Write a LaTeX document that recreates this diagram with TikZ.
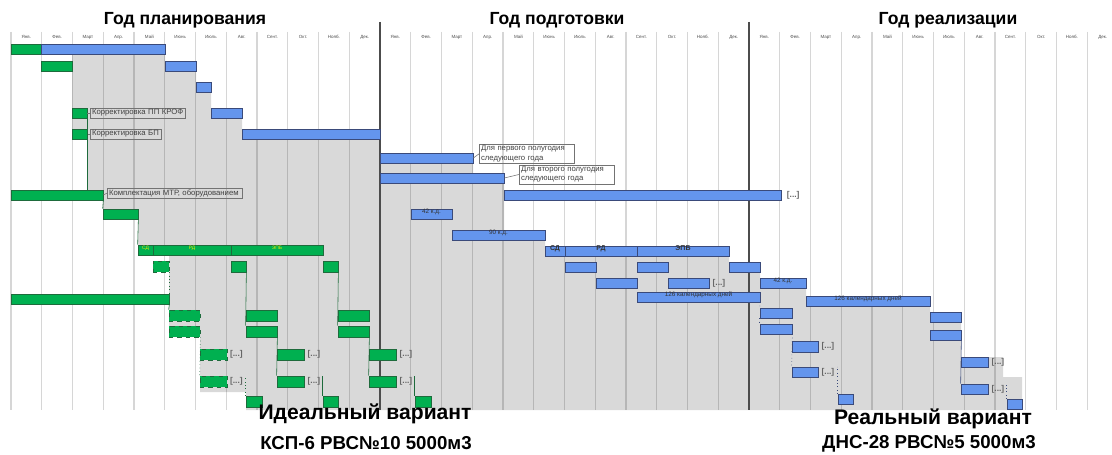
\documentclass[tikz,border=0pt]{standalone}
\usepackage{fontspec}
\setmainfont{Liberation Sans}
\usetikzlibrary{fit,positioning}
\definecolor{verdeb}{HTML}{00B050}
\definecolor{verdel}{HTML}{1E6B3C}
\definecolor{azulb}{HTML}{6495ED}
\definecolor{azull}{HTML}{3A4A7A}
\definecolor{cinza}{HTML}{D9D9D9}

\begin{document}
\begin{tikzpicture}[
    x=0.25mm, y=-0.25mm,
    % Green bars (ideal variant)
    verde/.style={
        draw=verdel, line width=0.5pt, fill=verdeb, inner sep=0pt,
        font=\fontsize{3.5}{4}\selectfont, text=yellow!90!green
    },
    verdetr/.style={verde, dashed},
    % Blue bars (real variant)
    azul/.style={
        draw=azull, line width=0.5pt, fill=azulb, inner sep=0pt,
        font=\fontsize{4.5}{5}\selectfont, text=black!80
    },
    azulbf/.style={azul, font=\fontsize{5}{6}\selectfont\bfseries},
    % Callout boxes
    nota/.style={
        draw=black!55, line width=0.4pt, inner sep=1pt,
        font=\fontsize{5.5}{6.5}\selectfont, text=black!75, align=left
    },
    ret/.style={font=\fontsize{6}{6}\selectfont\bfseries, text=black!60, inner sep=0pt},
    mes/.style={font=\fontsize{3.2}{4}\selectfont, text=black!70, inner sep=0pt},
    ano/.style={font=\fontsize{12.5}{14}\selectfont\bfseries},
    var/.style={font=\fontsize{15}{17}\selectfont\bfseries, inner sep=0pt},
    obj/.style={font=\fontsize{13.3}{15}\selectfont\bfseries, inner sep=0pt},
    lmes/.style={draw=black, draw opacity=0.16, line width=0.33mm},
    lano/.style={draw=black!70, line width=0.38mm},
    lverde/.style={draw=verdel, line width=0.4pt},
    lazul/.style={draw=azull, line width=0.4pt},
    lnota/.style={draw=black!55, line width=0.4pt}
]
\useasboundingbox (0,0) rectangle (1112,455);

% ---- GREY AREA ----
\fill[cinza] (72,54) -| (165,71) -| (196,92) -| (211,118) -| (242,139)
    -| (380,163) -| (473,183) -| (504,240) -| (545,256) -| (729,272)
    -| (760,288) -| (806,306) -| (930,322) -| (961,357) -| (1003,377)
    -| (1022,410) -| (246,392) -| (200,337) -| (169,255) -| (138,219)
    -| (103,190) -| (87,139) -| (72,54) -- cycle;

% ---- MONTH GRID ----
\foreach \k in {0,...,35}
    \draw[lmes] ({11+30.75*\k},32) -- ({11+30.75*\k},410);
\draw[lano] (380,22) -- (380,410);
\draw[lano] (749,22) -- (749,410);

\foreach \a in {0,1,2}
    \foreach \m [count=\i from 0] in {Янв.,Фев.,Март,Апр.,Май,Июнь,Июль,Авг.,Сент.,Окт.,Нояб.,Дек.}
        \node[mes] (m\a-\i) at ({26.4+30.75*(12*\a+\i)},37) {\m};

% ---- YEARS ----
\node[ano] (ano1) at (185,20) {Год планирования};
\node[ano] (ano2) at (557,20) {Год подготовки};
\node[ano] (ano3) at (948,20) {Год реализации};

% ---- GREEN BARS: IDEAL VARIANT ----
\node[verde, fit={(11,44) (41,54)}]    (g1) {};
\node[verde, fit={(41,61) (72,71)}]    (g2) {};
\node[verde, fit={(72,108) (87,118)}]  (g3) {};
\node[verde, fit={(72,129) (87,139)}]  (g4) {};
\node[verde, fit={(11,190) (103,200)}] (g5) {};
\node[verde, fit={(103,209) (138,219)}] (g6) {};
\node[verde, fit={(138,245) (153,255)}] (g7a) {СД};
\node[verde, fit={(153,245) (231,255)}] (g7b) {РД};
\node[verde, fit={(231,245) (323,255)}] (g7c) {ЭПБ};
\node[verdetr, fit={(153,261) (169,272)}] (g8a) {};
\node[verde, fit={(231,261) (246,272)}]   (g8b) {};
\node[verde, fit={(323,261) (338,272)}]   (g8c) {};
\node[verde, fit={(11,294) (169,304)}]    (g9) {};
\node[verdetr, fit={(169,310) (200,321)}] (g10a) {};
\node[verde, fit={(246,310) (277,321)}]   (g10b) {};
\node[verde, fit={(338,310) (369,321)}]   (g10c) {};
\node[verdetr, fit={(169,326) (200,337)}] (g11a) {};
\node[verde, fit={(246,326) (277,337)}]   (g11b) {};
\node[verde, fit={(338,326) (369,337)}]   (g11c) {};
\node[verdetr, fit={(200,349) (227,360)}] (g12a) {};
\node[verde, fit={(277,349) (304,360)}]   (g12b) {};
\node[verde, fit={(369,349) (396,360)}]   (g12c) {};
\node[verdetr, fit={(200,376) (227,387)}] (g13a) {};
\node[verde, fit={(277,376) (304,387)}]   (g13b) {};
\node[verde, fit={(369,376) (396,387)}]   (g13c) {};
\node[verde, fit={(246,396) (262,407)}]   (g14a) {};
\node[verde, fit={(323,396) (338,407)}]   (g14b) {};
\node[verde, fit={(415,396) (431,407)}]   (g14c) {};

% Callouts
\node[nota, right=0.75mm of g3, text width=23mm] (n3) {Корректировка ПП КРОФ};
\node[nota, right=0.75mm of g4, text width=17mm] (n4) {Корректировка БП};
\node[nota, right=1mm of g5, yshift=0.5mm, text width=33mm] (n5) {Комплектация МТР, оборудованием};
\draw[lnota] (g3.east) -- (n3.west);
\draw[lnota] (g4.east) -- (n4.west);
\draw[lnota] (g5.east) -- (n5.west);

\node[ret, right=0.6mm of g12a] (r12a) {[...]};
\node[ret, right=0.75mm of g12b] (r12b) {[...]};
\node[ret, right=0.75mm of g12c] (r12c) {[...]};
\node[ret, right=0.6mm of g13a] (r13a) {[...]};
\node[ret, right=0.75mm of g13b] (r13b) {[...]};
\node[ret, right=0.75mm of g13c] (r13c) {[...]};

% Green dependencies
\draw[lverde] (g3.south east) -- (g3.south east |- g5.north);
\draw[lverde] (g5.south east) -- (g6.north west);
\draw[lverde] (g6.south east) -- (g7a.north west);
\draw[lverde, dotted] (g8a.south east) -- (g9.north east);
\draw[lverde] (g9.south east) -- (g10a.north west);
\draw[lverde] (g8b.south east) -- (g11b.north west);
\draw[lverde] (g8c.south east) -- (g11c.north west);
\draw[lverde, dotted] (g11a.south east) -- (g13a.north west);
\draw[lverde] (g11b.south east) -- (g13b.north west);
\draw[lverde] (g11c.south east) -- (g13c.north west);
\draw[lverde, dotted] (g14a.north west) -- (g14a.north west |- g13a.north);
\draw[lverde] (g14b.north west) -- (g14b.north west |- g13b.north);
\draw[lverde] (g14c.north west) -- (g14c.north west |- g13c.north);

% ---- BLUE BARS: REAL VARIANT ----
\node[azul, fit={(41,44) (165,54)}]   (b1) {};
\node[azul, fit={(165,61) (196,71)}]  (b2) {};
\node[azul, fit={(196,82) (211,92)}]  (b3) {};
\node[azul, fit={(211,108) (242,118)}] (b4) {};
\node[azul, fit={(242,129) (380,139)}] (b5) {};
\node[azul, fit={(380,153) (473,163)}] (b6) {};
\node[azul, fit={(380,173) (504,183)}] (b7) {};
\node[azul, fit={(504,190) (781,200)}] (b8) {};
\node[azul, fit={(411,209) (452,219)}] (b9) {42 к.д.};
\node[azul, fit={(452,230) (545,240)}] (b10) {90 к.д.};
\node[azulbf, fit={(545,246) (565,256)}] (b11a) {СД};
\node[azulbf, fit={(565,246) (637,256)}] (b11b) {РД};
\node[azulbf, fit={(637,246) (729,256)}] (b11c) {ЭПБ};
\node[azul, fit={(565,262) (596,272)}] (b12a) {};
\node[azul, fit={(637,262) (668,272)}] (b12b) {};
\node[azul, fit={(729,262) (760,272)}] (b12c) {};
\node[azul, fit={(596,278) (637,288)}] (b13a) {};
\node[azul, fit={(668,278) (709,288)}] (b13b) {};
\node[azul, fit={(760,278) (806,288)}] (b13c) {42 к.д.};
\node[azul, fit={(637,292) (760,302)}] (b14a) {126 календарных дней};
\node[azul, fit={(806,296) (930,306)}] (b14b) {126 календарных дней};
\node[azul, fit={(760,308) (792,318)}] (b15a) {};
\node[azul, fit={(930,312) (961,322)}] (b15b) {};
\node[azul, fit={(760,324) (792,334)}] (b16a) {};
\node[azul, fit={(930,330) (961,340)}] (b16b) {};
\node[azul, fit={(792,341) (818,352)}] (b17a) {};
\node[azul, fit={(961,357) (988,367)}] (b17b) {};
\node[azul, fit={(792,367) (818,377)}] (b18a) {};
\node[azul, fit={(961,384) (988,394)}] (b18b) {};
\node[azul, fit={(838,394) (853,404)}] (b19a) {};
\node[azul, fit={(1007,399) (1022,409)}] (b19b) {};

% Callouts
\node[nota, right=1.5mm of b6, yshift=1.1mm, text width=23mm] (n6) {Для первого полугодия\\следующего года};
\node[nota, right=3.75mm of b7, yshift=0.9mm, text width=23mm] (n7) {Для второго полугодия\\следующего года};
\draw[lnota] (b6.east) -- (n6.west);
\draw[lnota] (b7.east) -- (n7.west);

\node[ret, right=1.3mm of b8]   (r8)   {[...]};
\node[ret, right=0.75mm of b13b] (r13bz) {[...]};
\node[ret, right=0.75mm of b17a] (r17a) {[...]};
\node[ret, right=0.75mm of b17b] (r17b) {[...]};
\node[ret, right=0.75mm of b18a] (r18a) {[...]};
\node[ret, right=0.75mm of b18b] (r18b) {[...]};

% Blue dependencies
\draw[lazul, dotted] (b14a.south east) -- (b15a.north west);
\draw[lazul, dotted] (b15a.south west) -- (b16a.north west);
\draw[lazul, dotted] (b16a.south east) -- (b18a.north west);
\draw[lazul, dotted] (b19a.north west) -- (b19a.north west |- b18a.north);
\draw[lazul] (b16b.south east) -- (b18b.north west);
\draw[lazul, dotted] (b19b.north west) -- (b19b.north west |- b18b.north);

% ---- VARIANTS ----
\node[var] (ideal)  at (365,414) {Идеальный вариант};
\node[obj] (ksp)    at (366,443) {КСП-6 РВС№10 5000м3};
\node[var] (real)   at (933,419) {Реальный вариант};
\node[obj] (dns)    at (929,444) {ДНС-28 РВС№5 5000м3};

\end{tikzpicture}
\end{document}
